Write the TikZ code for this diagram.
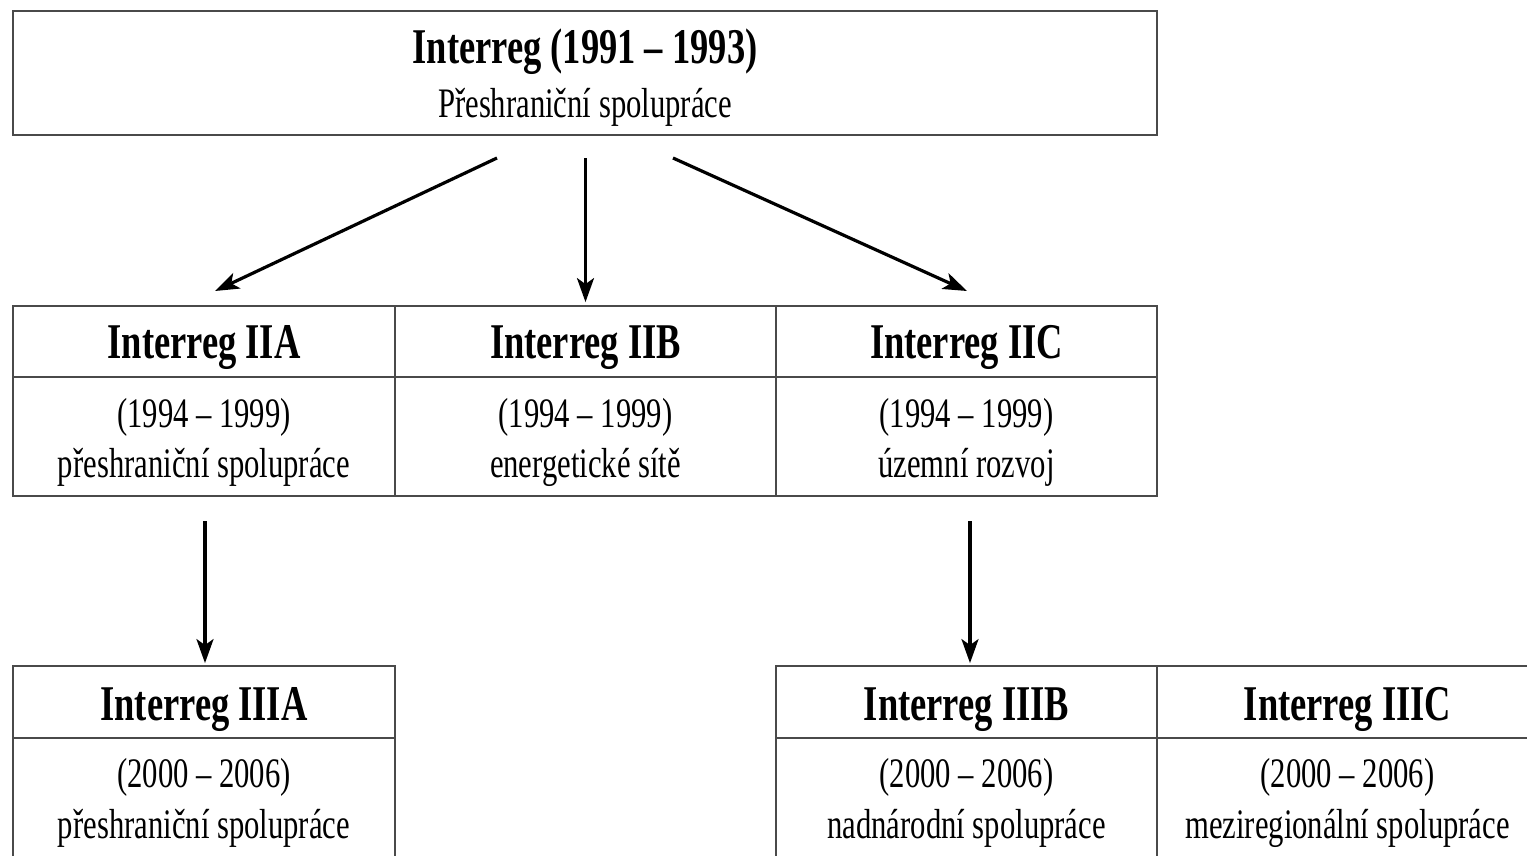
\documentclass[tikz,border=0pt]{standalone}
\usepackage{fontspec}
\newfontfamily\condr[FakeStretch=0.73]{Liberation Serif}
\newfontfamily\condb[FakeStretch=0.73]{Liberation Serif}
\usetikzlibrary{arrows.meta}
\definecolor{boxgray}{HTML}{4A4A4A}
\begin{document}
\begin{tikzpicture}[x=1pt,y=-1pt,
  cell/.style={draw=boxgray, line width=1.8pt, inner sep=0pt, minimum width=#1},
  hd/.style={anchor=base, inner sep=0pt, font=\condb\bfseries\fontsize{50}{50}\selectfont},
  tx/.style={anchor=base, inner sep=0pt, font=\condr\fontsize{42}{42}\selectfont},
  arr/.style={line width=3.2pt, -{Stealth[length=24pt,width=17pt,inset=6pt]}}]
\clip (0,0) rectangle (1527,855);
\fill[white] (0,0) rectangle (1527,855);
% top box
\node[cell=1144pt, minimum height=124pt] (top) at (585,73) {};
\node[hd] (toph) at (585,63) {Interreg (1991 – 1993)};
\node[tx] (topt) at (585,117) {Přeshraniční spolupráce};
% row 2
\node[cell=382pt, minimum height=71pt] (iiah) at (204,341.5) {};
\node[cell=381pt, minimum height=71pt] (iibh) at (585.5,341.5) {};
\node[cell=381pt, minimum height=71pt] (iich) at (966.5,341.5) {};
\node[cell=382pt, minimum height=119pt] (iiab) at (204,436.5) {};
\node[cell=381pt, minimum height=119pt] (iibb) at (585.5,436.5) {};
\node[cell=381pt, minimum height=119pt] (iicb) at (966.5,436.5) {};
\node[hd] (iiat) at (204,358) {Interreg IIA};
\node[hd] (iibt) at (585.5,358) {Interreg IIB};
\node[hd] (iict) at (966.5,358) {Interreg IIC};
\node[tx] (iiad) at (204,427) {(1994 – 1999)};
\node[tx] (iibd) at (585.5,427) {(1994 – 1999)};
\node[tx] (iicd) at (966.5,427) {(1994 – 1999)};
\node[tx] (iiax) at (204,477) {přeshraniční spolupráce};
\node[tx] (iibx) at (585.5,477) {energetické sítě};
\node[tx] (iicx) at (966.5,477) {územní rozvoj};
% row 3
\node[cell=382pt, minimum height=72pt] (iiiah) at (204,702) {};
\node[cell=381pt, minimum height=72pt] (iiibh) at (966.5,702) {};
\node[cell=381pt, minimum height=72pt] (iiich) at (1347.5,702) {};
\node[cell=382pt, minimum height=160pt] (iiiab) at (204,818) {};
\node[cell=381pt, minimum height=160pt] (iiibb) at (966.5,818) {};
\node[cell=381pt, minimum height=160pt] (iiicb) at (1347.5,818) {};
\node[hd] (iiiat) at (204,720) {Interreg IIIA};
\node[hd] (iiibt) at (966.5,720) {Interreg IIIB};
\node[hd] (iiict) at (1347.5,720) {Interreg IIIC};
\node[tx] (iiiad) at (204,787) {(2000 – 2006)};
\node[tx] (iiibd) at (966.5,787) {(2000 – 2006)};
\node[tx] (iiicd) at (1347.5,787) {(2000 – 2006)};
\node[tx] (iiiax) at (204,838) {přeshraniční spolupráce};
\node[tx] (iiibx) at (966.5,838) {nadnárodní spolupráce};
\node[tx] (iiicx) at (1347.5,838) {meziregionální spolupráce};
% arrow start points
\coordinate (s1) at (497,158);
\coordinate (s2) at (585.5,158);
\coordinate (s3) at (673,158);
\coordinate (s4) at (205,521);
\coordinate (s5) at (970,521);
\coordinate (e1) at (215,291);
\coordinate (e3) at (967,291);
\draw[arr] (s1) -- (e1);
\draw[arr, shorten >=3pt] (s2) -- (iibh.north);
\draw[arr] (s3) -- (e3);
\draw[arr, shorten >=2pt] (s4) -- (s4 |- iiiah.north);
\draw[arr, shorten >=2pt] (s5) -- (s5 |- iiibh.north);
\end{tikzpicture}
\end{document}
